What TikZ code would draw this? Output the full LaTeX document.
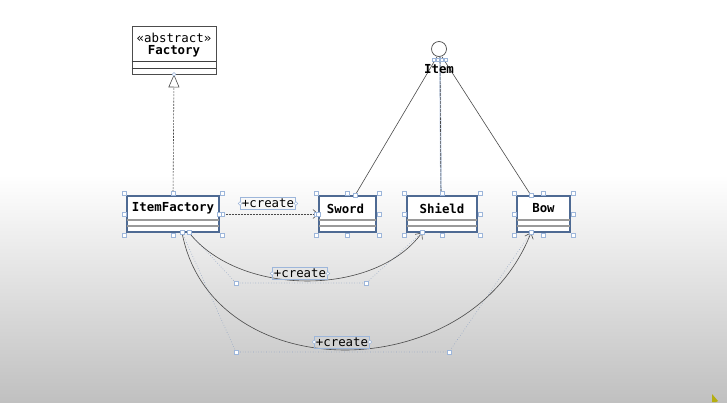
\documentclass[tikz,border=0pt]{standalone}
\usepackage{fontspec}
\setmonofont{DejaVu Sans Mono}
\usetikzlibrary{arrows.meta,calc}
\definecolor{clsb}{HTML}{4E6A93}
\definecolor{hdl}{HTML}{9DB6DA}
\definecolor{cmpg}{HTML}{9A9A9A}
\definecolor{lnk}{HTML}{4A4A4A}
\definecolor{ctrl}{HTML}{93A6C4}
\definecolor{bgb}{HTML}{C0C0C0}
\definecolor{curs}{HTML}{B5AE10}
\tikzset{
  cls/.style={draw=clsb, line width=1.2pt, fill=white, minimum width=#1, minimum height=36pt, inner sep=0pt},
  cname/.style={font=\ttfamily\bfseries\fontsize{12.4}{14}\selectfont, inner sep=0pt, text=black},
  cplain/.style={font=\ttfamily\fontsize{12.4}{14}\selectfont, inner sep=0pt, text=black},
  cmp/.style={draw=cmpg, line width=1.8pt},
  hdlbox/.style={draw=hdl, line width=0.5pt, fill=white},
  lnkline/.style={draw=lnk, line width=0.6pt},
  ctrlp/.style={draw=ctrl, line width=0.6pt, dotted},
  barb/.style={-{Straight Barb[length=5pt,width=9pt]}},
  lbl/.style={font=\ttfamily\fontsize{12.4}{14}\selectfont, draw=hdl, line width=0.6pt, inner xsep=1.5pt, inner ysep=1.5pt, text=black}
}
\newcommand\hdls[1]{%
  \foreach \p/\dx/\dy in {north west/-2.5/-2.5, north/0/-2.5, north east/2.5/-2.5, west/-2.5/0, east/2.5/0, south west/-2.5/2.5, south/0/2.5, south east/2.5/2.5}{%
    \draw[hdlbox] ($(#1.\p)+(\dx,\dy)+(-2,-2)$) rectangle ++(4,4);}}
\newcommand\lblends[1]{\draw[hdl, line width=0.5pt, fill=white] (#1.west) circle (1.8); \draw[hdl, line width=0.5pt, fill=white] (#1.east) circle (1.8);}
\begin{document}
\begin{tikzpicture}[x=1pt,y=-1pt]
\useasboundingbox (0,0) rectangle (727,402);
\fill[white] (0,0) rectangle (727,402);
\shade[top color=white, bottom color=bgb] (0,175) rectangle (727,402);

% abstract Factory
\node[draw=black!70, line width=0.7pt, fill=white, minimum width=84pt, minimum height=48pt, inner sep=0pt] (fac) at (174,50) {};
\node[cplain] (facst) at (174,37.5) {«abstract»};
\node[cname] (facn) at (174,51) {Factory};
\draw[black!75, line width=0.6pt] ($(fac.south west)+(0,-13)$) -- ($(fac.south east)+(0,-13)$);
\draw[black!75, line width=0.6pt] ($(fac.south west)+(0,-6)$) -- ($(fac.south east)+(0,-6)$);

% classes
\node[cls=92pt] (itf) at (173,214) {};
\node[cls=57pt] (sword) at (347.5,214) {};
\node[cls=70pt] (shield) at (442,214) {};
\node[cls=53pt] (bow) at (543.5,214) {};
\foreach \c in {itf,sword,shield,bow}{%
  \draw[cmp] ($(\c.south west)+(0.6,-13)$) -- ($(\c.south east)+(-0.6,-13)$);
  \draw[cmp] ($(\c.south west)+(0.6,-7)$) -- ($(\c.south east)+(-0.6,-7)$);
}
\node[cname] (itfn) at ($(itf.north)+(0,13)$) {ItemFactory};
\node[cname] (swordn) at ($(sword.north)+(-2,13)$) {Sword};
\node[cname] (shieldn) at ($(shield.north)+(0,13)$) {Shield};
\node[cname] (bown) at ($(bow.north)+(0,13)$) {Bow};

% Item interface
\node[draw=black!70, line width=0.7pt, circle, minimum size=15pt, inner sep=0pt, fill=white] (itemc) at (439,49) {};

% realization ItemFactory -> Factory
\draw[lnkline, dash pattern=on 2pt off 1.2pt, -{Triangle[open,length=13pt,width=11pt]}] (itf.north) -- (fac.south);
\draw[hdl, line width=0.5pt, fill=white] (fac.south) circle (1.8);

% Item links
\draw[lnkline] ($(itemc.south)+(-2,0)$) -- ($(sword.north)+(7.5,0)$);
\draw[hdl!60, line width=1.6pt] ($(itemc.south)+(1,0)$) -- ($(shield.north)+(-1,0)$);
\draw[lnkline, dash pattern=on 3pt off 1pt] ($(itemc.south)+(1,0)$) -- ($(shield.north)+(-1,0)$);
\draw[lnkline] ($(itemc.south)+(3,0)$) -- ($(bow.north)+(-12.5,0)$);
\node[cname] (itemn) at (439,69) {Item};
\foreach \dx in {-5,-1,3,7}{\draw[hdlbox] ($(itemc.south)+(\dx-1.5,1)$) rectangle ++(3,3);}

% association ItemFactory -> Sword
\draw[lnkline, dash pattern=on 2pt off 1pt, barb] (itf.east) -- (sword.west);
\node[lbl] (lab1) at (268,203.5) {+create};
\lblends{lab1}

% curved associations
\coordinate (s1) at ($(itf.south)+(16,0)$);
\coordinate (s2) at ($(itf.south)+(9,0)$);
\coordinate (e1) at ($(shield.south)+(-20,0)$);
\coordinate (e2) at ($(bow.south)+(-12.5,0)$);
\coordinate (p1a) at (236,283);
\coordinate (p1b) at (366,283);
\coordinate (p2a) at (236,352);
\coordinate (p2b) at (449,352);
\coordinate (c1a) at (240,297);
\coordinate (c1b) at (375,297);
\coordinate (c2a) at (212,389);
\coordinate (c2b) at (470,389);
\draw[ctrlp] (s1) -- (p1a) -- (p1b) -- (e1);
\draw[ctrlp] (s2) -- (p2a) -- (p2b) -- (e2);
\draw[lnkline, barb] (s1) .. controls (c1a) and (c1b) .. (e1);
\draw[lnkline, barb] (s2) .. controls (c2a) and (c2b) .. (e2);
\foreach \q in {p1a,p1b,p2a,p2b}{\draw[hdlbox] ($(\q)+(-2,-2)$) rectangle ++(4,4);}
\node[lbl] (lab2) at (300,273.5) {+create};
\lblends{lab2}
\node[lbl] (lab3) at (342,342) {+create};
\lblends{lab3}

% selection handles
\hdls{itf}
\hdls{sword}
\hdls{shield}
\hdls{bow}
\foreach \q in {s1,s2,e1,e2}{\draw[hdlbox] ($(\q)+(-2,-2)$) rectangle ++(4,4);}
\draw[hdlbox] ($(sword.north)+(7.5,0)+(-2,-2)$) rectangle ++(4,4);
\draw[hdlbox] ($(bow.north)+(-12.5,0)+(-2,-2)$) rectangle ++(4,4);
\draw[hdlbox] ($(itf.east)+(-2,-2)$) rectangle ++(4,4);
\draw[hdlbox] ($(sword.west)+(-2,-2)$) rectangle ++(4,4);

% cursor
\fill[curs] (712,394) -- (718,401) -- (716,402) -- (712,402) -- cycle;
\end{tikzpicture}
\end{document}
